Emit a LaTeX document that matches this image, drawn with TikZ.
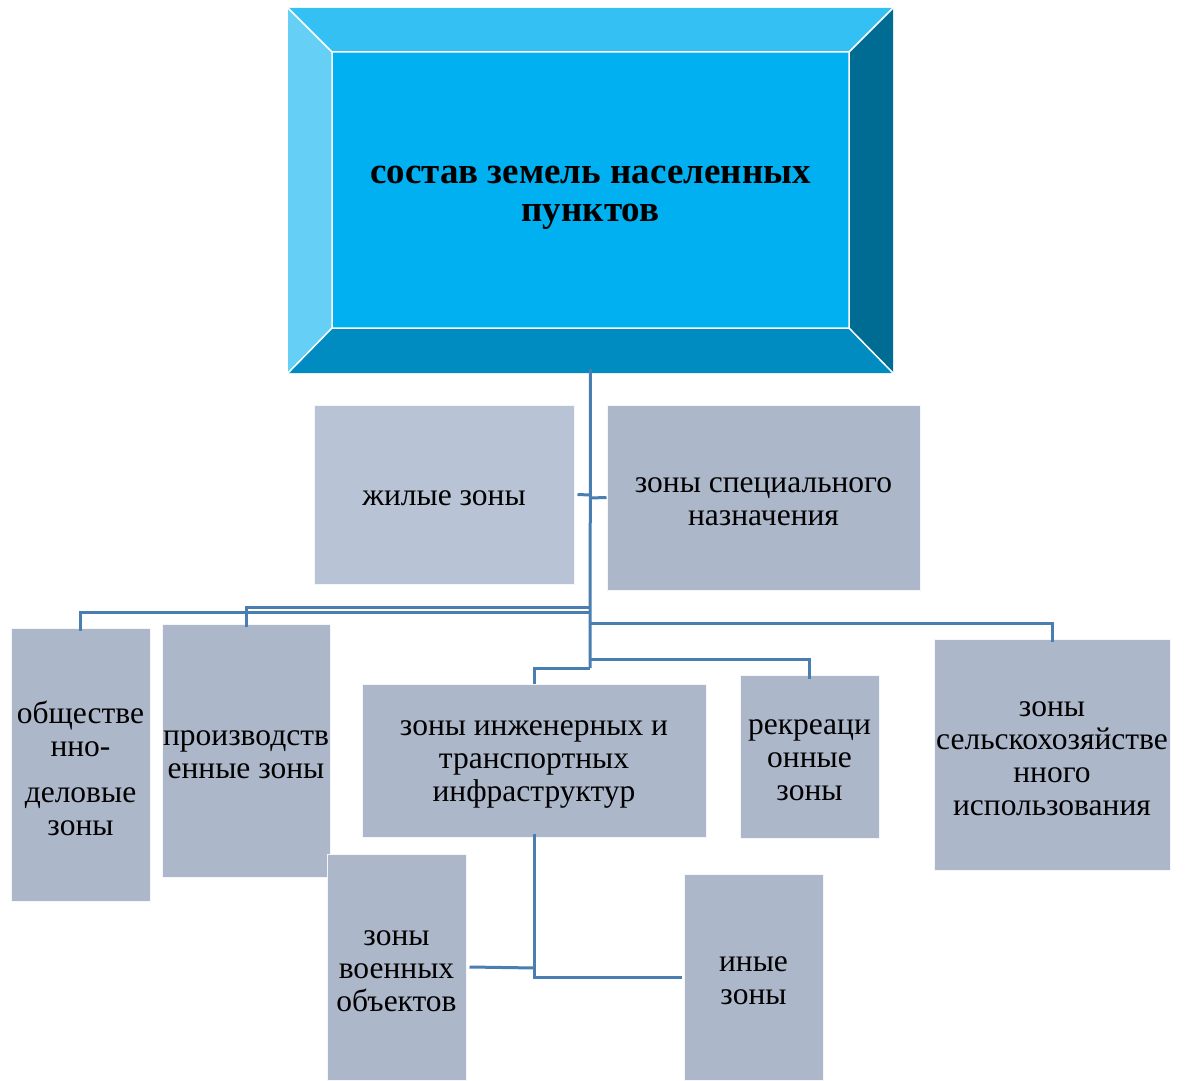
\documentclass[tikz,border=0pt]{standalone}
\usepackage{fontspec}
\setmainfont{Liberation Serif}
\definecolor{bvtop}{HTML}{35C0F3}
\definecolor{bvleft}{HTML}{66CFF5}
\definecolor{bvmid}{HTML}{00B0F0}
\definecolor{bvright}{HTML}{006C93}
\definecolor{bvbot}{HTML}{008CC0}
\definecolor{boxfill}{HTML}{ADB7CA}
\definecolor{boxlight}{HTML}{B8C4D6}
\definecolor{conn}{HTML}{4A7EB0}
\begin{document}
\begin{tikzpicture}[x=1pt,y=-1pt,
  zone/.style={rectangle, fill=boxfill, draw=white!88!boxfill, line width=1pt, inner sep=0pt},
  ztext/.style={inner sep=0pt, align=center, font=\fontsize{31.5}{33}\selectfont, yshift=-4pt},
  link/.style={draw=conn, line width=3pt}]
\useasboundingbox (0,0) rectangle (1186,1081);
% bevelled title box
\fill[bvtop] (288,8) -- (893,8) -- (849,52) -- (332,52) -- cycle;
\fill[bvleft] (288,8) -- (332,52) -- (332,328) -- (288,373) -- cycle;
\fill[bvright] (893,8) -- (893,373) -- (849,328) -- (849,52) -- cycle;
\fill[bvbot] (288,373) -- (332,328) -- (849,328) -- (893,373) -- cycle;
\fill[bvmid] (332,52) rectangle (849,328);
\draw[white, line width=1.5pt] (288,8) -- (332,52) (893,8) -- (849,52) (288,373) -- (332,328) (893,373) -- (849,328) (332,52) rectangle (849,328);
\node[rectangle, minimum width=605pt, minimum height=365pt, inner sep=0pt] (top) at (590.5,190.5) {};
\node[align=center, font=\fontsize{37}{38}\selectfont\bfseries] (title) at (590.5,198) {состав земель населенных\\пунктов};
% zone boxes
\node[zone, fill=boxlight, minimum width=260pt, minimum height=179pt] (zhil) at (444,494.5) {};
\node[zone, minimum width=313pt, minimum height=185pt] (spec) at (763.5,497.5) {};
\node[zone, minimum width=139pt, minimum height=273pt] (obsh) at (80.5,764.5) {};
\node[zone, minimum width=168pt, minimum height=253pt] (proizv) at (246,750.5) {};
\node[zone, minimum width=344pt, minimum height=153pt] (inzh) at (534,760.5) {};
\node[zone, minimum width=139pt, minimum height=163pt] (rekr) at (809.5,756.5) {};
\node[zone, minimum width=236pt, minimum height=231pt] (selsk) at (1052,754.5) {};
\node[zone, minimum width=139pt, minimum height=226pt] (voen) at (396.5,967) {};
\node[zone, minimum width=139pt, minimum height=206pt] (inye) at (753.5,977) {};
% zone texts
\node[ztext] (zhil-t) at (zhil) {жилые зоны};
\node[ztext] (spec-t) at (spec) {зоны специального\\назначения};
\node[ztext] (obsh-t) at (obsh) {обществе\\нно-\\[13pt]деловые\\зоны};
\node[ztext] (proizv-t) at (proizv) {производств\\енные зоны};
\node[ztext] (inzh-t) at (inzh) {зоны инженерных и\\транспортных\\инфраструктур};
\node[ztext] (rekr-t) at (rekr) {рекреаци\\онные\\зоны};
\node[ztext] (selsk-t) at (selsk) {зоны\\сельскохозяйстве\\нного\\использования};
\node[ztext] (voen-t) at (voen) {зоны\\военных\\объектов};
\node[ztext] (inye-t) at (inye) {иные\\зоны};
% connectors
\coordinate (tb) at (590,668);
\draw[link] ([yshift=4pt]top.south) -- (tb);
\draw[link] (590,495) -- ([xshift=3pt]zhil.east);
\draw[link] (590,498) -- (spec.west);
\draw[link] (590,607) -| ([yshift=-3pt]proizv.north);
\draw[link] (590,612) -| ([yshift=-3pt]obsh.north);
\draw[link] (590,623) -| ([yshift=-3pt]selsk.north);
\draw[link] (590,659) -| ([yshift=-4pt]rekr.north);
\draw[link] (tb) -| (inzh.north);
\draw[link] ([yshift=4pt]inzh.south) |- ([xshift=-2pt]inye.west);
\draw[link] (535.5,968) -- ([xshift=3pt]voen.east);
\end{tikzpicture}
\end{document}
